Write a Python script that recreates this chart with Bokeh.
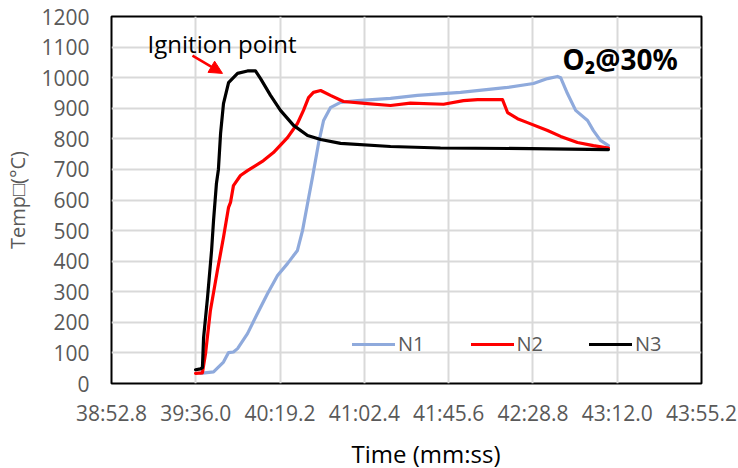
from bokeh.plotting import figure
from bokeh.models import (Range1d, FixedTicker, Arrow, NormalHead, Label, Title)
from bokeh.embed import file_html
from bokeh.resources import INLINE

# ---- data (time in seconds since 00:00, temperature in °C) ----
N1_T = [2378.4, 2385.1, 2390.2, 2392.8, 2395.3, 2397.4, 2402.5, 2407.6, 2412.8, 2417.9,
        2423.0, 2428.1, 2430.7, 2433.3, 2435.8, 2438.9, 2441.5, 2445.0, 2450.2, 2458.9,
        2475.8, 2489.6, 2511.7, 2535.8, 2549.1, 2556.3, 2561.4, 2563.0, 2566.5, 2570.7,
        2576.8, 2579.8, 2583.4, 2587.5]
N1_V = [33, 38, 70, 101, 103, 114, 163, 229, 294, 353,
        392, 435, 500, 589, 674, 785, 860, 902, 919, 925,
        932, 942, 952, 968, 981, 997, 1004, 1000, 948, 893,
        860, 827, 795, 778]

N2_T = [2375.9, 2379.4, 2381.0, 2383.5, 2387.1, 2390.2, 2392.8, 2393.8, 2395.3, 2398.9,
        2402.5, 2410.7, 2415.8, 2423.0, 2428.1, 2431.2, 2433.8, 2436.3, 2440.0, 2445.0,
        2451.7, 2464.0, 2475.8, 2486.0, 2503.0, 2513.2, 2520.4, 2533.2, 2535.8, 2540.9,
        2546.0, 2556.3, 2563.0, 2571.6, 2579.8, 2587.5]
N2_V = [33, 35, 98, 239, 370, 478, 576, 592, 647, 680,
        696, 729, 755, 804, 850, 893, 935, 952, 958, 942,
        922, 915, 909, 917, 913, 925, 928, 928, 886, 866,
        853, 827, 808, 788, 778, 770]

N3_T = [2375.9, 2378.4, 2379.4, 2380.0, 2382.0, 2384.1, 2385.1, 2386.6, 2387.6, 2388.7,
        2390.2, 2392.8, 2397.4, 2402.5, 2406.6, 2409.2, 2414.3, 2419.4, 2426.1, 2433.3,
        2440.0, 2450.2, 2475.8, 2501.4, 2547.6, 2587.5]
N3_V = [45, 48, 52, 150, 280, 435, 533, 655, 700, 817,
        915, 984, 1014, 1022, 1022, 997, 942, 893, 844, 811,
        798, 785, 775, 770, 768, 765]

X_TICKS = [2332.8, 2376.0, 2419.2, 2462.4, 2505.6, 2548.8, 2592.0, 2635.2]
X_TICK_LABELS = ["38:52.8", "39:36.0", "40:19.2", "41:02.4", "41:45.6", "42:28.8", "43:12.0", "43:55.2"]
Y_TICKS = list(range(0, 1201, 100))

SERIES = ["N1", "N2", "N3"]
COLORS = ["#8faadc", "#ff0000", "#000000"]

# annotation anchors (data units)
IGNITION_TEXT_POS = (2351.3, 1112)
ARROW_START = (2374.3, 1072)
ARROW_END = (2389.7, 1014)
O2_TEXT_POS = (2564.0, 1060)

FONT = "Open Sans"
GRAY = "#595959"

p = figure(frame_width=590, frame_height=367, output_backend="svg", toolbar_location=None,
           x_range=Range1d(X_TICKS[0], X_TICKS[-1]), y_range=Range1d(0, 1200),
           min_border_left=111, min_border_right=37, min_border_top=16, min_border_bottom=0)
p.background_fill_color = "white"
p.border_fill_color = "white"
p.outline_line_color = "black"
p.outline_line_width = 2

# grid
for g in (p.xgrid, p.ygrid):
    g.grid_line_color = "#d9d9d9"
    g.grid_line_width = 2
p.xaxis.ticker = FixedTicker(ticks=X_TICKS)
p.yaxis.ticker = FixedTicker(ticks=Y_TICKS)
p.xaxis.major_label_overrides = {t: l for t, l in zip(X_TICKS, X_TICK_LABELS)}

for ax in (p.xaxis, p.yaxis):
    ax.axis_line_color = None
    ax.major_tick_line_color = None
    ax.minor_tick_line_color = None
    ax.major_tick_in = 0
    ax.major_tick_out = 0
    ax.major_label_text_font = FONT
    ax.major_label_text_font_size = "21px"
    ax.major_label_text_color = GRAY

p.yaxis.major_label_standoff = 22
p.xaxis.major_label_standoff = 15

p.yaxis.axis_label = "Temp\u25a1(°C)"
p.yaxis.axis_label_text_font = FONT
p.yaxis.axis_label_text_font_size = "20px"
p.yaxis.axis_label_text_font_style = "normal"
p.yaxis.axis_label_text_color = GRAY
p.yaxis.axis_label_standoff = 7

xt = Title(text="Time (mm:ss)", align="left", offset=240, text_font=FONT,
           text_font_size="24px", text_font_style="normal", text_color="black", standoff=10)
p.add_layout(xt, "below")

# series
for xs, ys, name, c in zip([N1_T, N2_T, N3_T], [N1_V, N2_V, N3_V], SERIES, COLORS):
    p.line(xs, ys, line_color=c, line_width=3.2, legend_label=name,
           line_join="round", line_cap="round")

leg = p.legend[0]
leg.orientation = "horizontal"
leg.location = (241, 26)
leg.border_line_color = None
leg.background_fill_alpha = 0
leg.padding = 0
leg.margin = 0
leg.spacing = 46
leg.glyph_width = 43
leg.glyph_height = 20
leg.label_height = 20
leg.label_standoff = 3
leg.label_text_font = FONT
leg.label_text_font_size = "20px"
leg.label_text_color = GRAY

# annotations
p.add_layout(Label(x=IGNITION_TEXT_POS[0], y=IGNITION_TEXT_POS[1], text="Ignition point",
                   text_font=FONT, text_font_size="24px", text_color="black",
                   text_baseline="alphabetic"))
p.add_layout(Arrow(x_start=ARROW_START[0], y_start=ARROW_START[1],
                   x_end=ARROW_END[0], y_end=ARROW_END[1],
                   line_color="#ff0000", line_width=2.5,
                   end=NormalHead(size=13, fill_color="#ff0000", line_color="#ff0000")))
p.add_layout(Label(x=O2_TEXT_POS[0], y=O2_TEXT_POS[1], text="O\u2082@30%",
                   text_font="Noto Sans", text_font_size="28px", text_font_style="bold",
                   text_color="black", text_baseline="alphabetic"))

open("out.html", "w").write(file_html(p, INLINE))
